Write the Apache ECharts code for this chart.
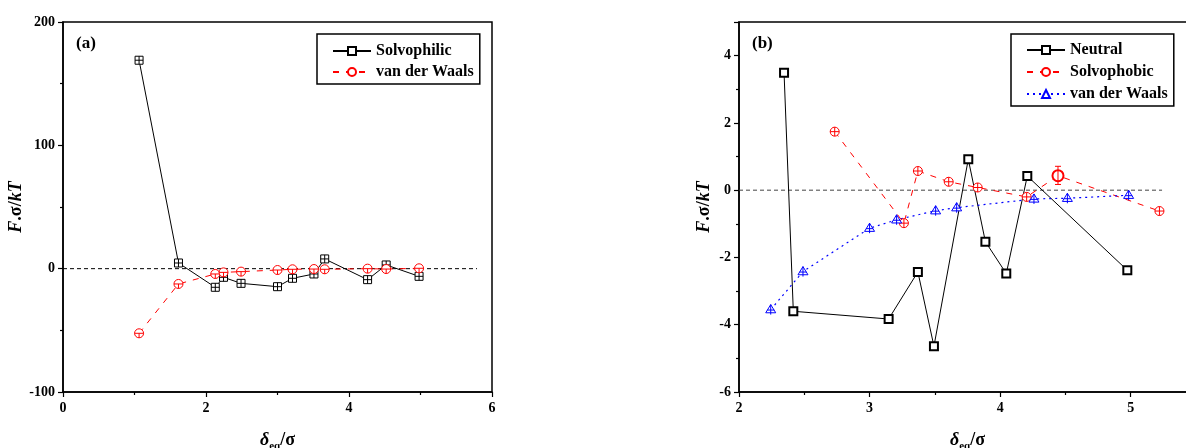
<!DOCTYPE html>
<html>
<head>
    <meta charset="utf-8">
    <script src="https://cdn.jsdelivr.net/npm/echarts@6/dist/echarts.min.js"></script>
    <style>
        * { margin: 0; padding: 0; }
        #main { width: 1186px; height: 448px; }
    </style>
</head>
<body>
    <div id="main"></div>
    <script type="text/javascript">
        // (a) panel
        var aX = [1.064, 1.615, 2.13, 2.245, 2.49, 3.0, 3.21, 3.51, 3.66, 4.26, 4.52, 4.98];
        var solvophilic = [169, 4.6, -15.1, -7, -11.9, -14.6, -7.8, -4.3, 7.9, -8.9, 3.0, -6.2];
        var vdwA = [-52.4, -12.4, -4.3, -3, -2.4, -1.1, -0.5, -0.3, -0.5, 0, -0.3, 0.3];

        // (b) panel
        var neutralX = [2.345, 2.416, 3.146, 3.37, 3.493, 3.756, 3.887, 4.047, 4.208, 4.974];
        var neutral = [3.49, -3.6, -3.83, -2.43, -4.64, 0.92, -1.53, -2.48, 0.42, -2.38];
        var phobicX = [2.733, 3.263, 3.37, 3.606, 3.828, 4.203, 4.443, 5.22];
        var phobic = [1.74, -0.98, 0.57, 0.25, 0.08, -0.2, 0.43, -0.62];
        var vdwBX = [2.243, 2.49, 3.0, 3.207, 3.506, 3.667, 4.259, 4.515, 4.984];
        var vdwB = [-3.55, -2.42, -1.13, -0.88, -0.61, -0.52, -0.26, -0.24, -0.15];

        // error bar on the open solvophobic point
        var errX = [4.443];
        var errLow = [0.17];
        var errHigh = [0.71];

        var zeroA = [0, 5.79];
        var zeroB = [2, 5.24];

        var serif = 'Liberation Serif';
        var symSqPlus = 'path://M0,0L10,0L10,10L0,10Z M5,0L5,10 M0,5L10,5';
        var symCirMinus = 'path://M5,0A5,5 0 1 1 4.99,0Z M0,5L10,5 M5,5L5,10';
        var symCirPlus = 'path://M5,0A5,5 0 1 1 4.99,0Z M0,5L10,5 M5,0L5,10';
        var symTriPlus = 'path://M5,0L10,9L0,9Z M5,0L5,11 M1.5,6L8.5,6';

        function pairs(xs, ys, sym, fill, stroke) {
            return xs.map(function (x, i) {
                var d = { value: [x, ys[i]] };
                if (sym) {
                    d.symbol = sym;
                    d.itemStyle = { color: fill, borderColor: stroke, borderWidth: 1 };
                }
                return d;
            });
        }

        var phobicData = pairs(phobicX, phobic, symCirPlus, '#fff', '#ff0000');
        phobicData[6].symbol = 'emptyCircle';
        phobicData[6].symbolSize = 11;
        phobicData[6].itemStyle = { color: '#ff0000', borderWidth: 1 };

        function axisX(idx, min, max, interval) {
            return {
                type: 'value', gridIndex: idx, min: min, max: max, interval: interval,
                name: '{i|δ}{s|eq}{b|/σ}',
                nameLocation: 'middle', nameGap: 37,
                nameTextStyle: {
                    rich: {
                        i: { fontFamily: serif, fontStyle: 'italic', fontWeight: 'bold', fontSize: 18, color: '#000' },
                        s: { fontFamily: serif, fontWeight: 'bold', fontSize: 11, color: '#000', padding: [12, 0, 0, 0] },
                        b: { fontFamily: serif, fontWeight: 'bold', fontSize: 18, color: '#000' }
                    }
                },
                axisLine: { onZero: false, lineStyle: { color: '#000', width: 1.5 } },
                axisTick: { length: 5, lineStyle: { color: '#000', width: 1.2 } },
                minorTick: { show: true, splitNumber: 2, length: 3, lineStyle: { color: '#000', width: 1.2 } },
                axisLabel: { fontFamily: serif, fontWeight: 'bold', fontSize: 14, color: '#000', margin: 9, showMaxLabel: idx === 0 },
                splitLine: { show: false }
            };
        }

        function axisY(idx, min, max, interval, gap) {
            return {
                type: 'value', gridIndex: idx, min: min, max: max, interval: interval,
                name: '{i|F}{b|.σ/}{i|kT}',
                nameLocation: 'middle', nameGap: gap,
                nameTextStyle: {
                    rich: {
                        i: { fontFamily: serif, fontStyle: 'italic', fontWeight: 'bold', fontSize: 18, color: '#000' },
                        b: { fontFamily: serif, fontWeight: 'bold', fontSize: 18, color: '#000' }
                    }
                },
                axisLine: { onZero: false, lineStyle: { color: '#000', width: 1.5 } },
                axisTick: { length: 5, lineStyle: { color: '#000', width: 1.2 } },
                minorTick: { show: true, splitNumber: 2, length: 3, lineStyle: { color: '#000', width: 1.2 } },
                axisLabel: { fontFamily: serif, fontWeight: 'bold', fontSize: 14, color: '#000', margin: 8, showMaxLabel: idx === 0 },
                splitLine: { show: false }
            };
        }

        var legendBase = {
            orient: 'vertical',
            top: 34,
            itemWidth: 38,
            itemHeight: 10,
            itemGap: 5,
            borderColor: '#000',
            borderWidth: 1.5,
            textStyle: { fontFamily: serif, fontWeight: 'bold', fontSize: 16, color: '#000' },
            formatter: function (n) { return n.replace(' (b)', ''); }
        };

        var myChart = echarts.init(document.getElementById('main'));

        var option = {
            animation: false,
            backgroundColor: '#fff',
            grid: [
                { left: 63, top: 22, width: 429, height: 370, show: true, borderColor: '#000', borderWidth: 1.5, outerBoundsMode: 'none' },
                { left: 739, top: 22, width: 457, height: 370, show: true, borderColor: '#000', borderWidth: 1.5, outerBoundsMode: 'none' }
            ],
            xAxis: [axisX(0, 0, 6, 2), axisX(1, 2, 5.5, 1)],
            yAxis: [axisY(0, -100, 200, 100, 36), axisY(1, -6, 5, 2, 26)],
            graphic: [
                { type: 'text', left: 76, top: 35, style: { text: '(a)', font: 'bold 17px "Liberation Serif"', fill: '#000' } },
                { type: 'text', left: 752, top: 35, style: { text: '(b)', font: 'bold 17px "Liberation Serif"', fill: '#000' } }
            ],
            legend: [
                Object.assign({}, legendBase, {
                    left: 317, padding: [9, 6, 4, 15],
                    data: [
                        { name: 'Solvophilic' },
                        { name: 'van der Waals' }
                    ]
                }),
                Object.assign({}, legendBase, {
                    left: 1011, padding: [8, 6, 4, 15], itemGap: 6,
                    data: [
                        { name: 'Neutral' },
                        { name: 'Solvophobic' },
                        { name: 'van der Waals (b)' }
                    ]
                })
            ],
            series: [
                {
                    type: 'line', xAxisIndex: 0, yAxisIndex: 0, silent: true, symbol: 'none',
                    data: zeroA.map(function (x) { return [x, 0]; }),
                    lineStyle: { color: '#000', width: 1, type: [4, 3] }
                },
                {
                    type: 'line', xAxisIndex: 1, yAxisIndex: 1, silent: true, symbol: 'none',
                    data: zeroB.map(function (x) { return [x, 0]; }),
                    lineStyle: { color: '#444', width: 1, type: [4, 3] }
                },
                {
                    name: 'Solvophilic', type: 'line', xAxisIndex: 0, yAxisIndex: 0,
                    symbol: 'emptyRect', symbolSize: 8, color: '#000',
                    lineStyle: { color: '#000', width: 1 },
                    data: pairs(aX, solvophilic, symSqPlus, '#fff', '#000'),
                    z: 3
                },
                {
                    name: 'van der Waals', type: 'line', xAxisIndex: 0, yAxisIndex: 0,
                    symbol: 'emptyCircle', symbolSize: 9, color: '#ff0000',
                    lineStyle: { color: '#ff0000', width: 1, type: [6, 7] },
                    data: pairs(aX, vdwA, symCirMinus, '#fff', '#ff0000'),
                    z: 4
                },
                {
                    name: 'Neutral', type: 'line', xAxisIndex: 1, yAxisIndex: 1,
                    symbol: 'emptyRect', symbolSize: 8, color: '#000',
                    itemStyle: { borderWidth: 1.5 },
                    lineStyle: { color: '#000', width: 1 },
                    data: pairs(neutralX, neutral),
                    z: 3
                },
                {
                    name: 'Solvophobic', type: 'line', xAxisIndex: 1, yAxisIndex: 1,
                    symbol: 'emptyCircle', symbolSize: 9, color: '#ff0000',
                    lineStyle: { color: '#ff0000', width: 1, type: [6, 7] },
                    data: phobicData,
                    z: 4
                },
                {
                    name: 'van der Waals (b)', type: 'line', xAxisIndex: 1, yAxisIndex: 1,
                    symbol: 'emptyTriangle', symbolSize: 10, color: '#0000ff',
                    lineStyle: { color: '#0000ff', width: 1.2, type: [2, 4] },
                    data: pairs(vdwBX, vdwB, symTriPlus, '#fff', '#0000ff'),
                    z: 4
                },
                {
                    type: 'custom', xAxisIndex: 1, yAxisIndex: 1, silent: true,
                    data: errX.map(function (x, i) { return [x, errLow[i], errHigh[i]]; }),
                    encode: { x: 0, y: [1, 2] },
                    renderItem: function (params, api) {
                        var lo = api.coord([api.value(0), api.value(1)]);
                        var hi = api.coord([api.value(0), api.value(2)]);
                        var st = { stroke: '#ff0000', lineWidth: 1 };
                        return {
                            type: 'group', children: [
                                { type: 'line', shape: { x1: lo[0], y1: lo[1], x2: hi[0], y2: hi[1] }, style: st },
                                { type: 'line', shape: { x1: lo[0] - 3, y1: lo[1], x2: lo[0] + 3, y2: lo[1] }, style: st },
                                { type: 'line', shape: { x1: hi[0] - 3, y1: hi[1], x2: hi[0] + 3, y2: hi[1] }, style: st }
                            ]
                        };
                    },
                    z: 5
                }
            ]
        };

        myChart.setOption(option);
    </script>
</body>
</html>
